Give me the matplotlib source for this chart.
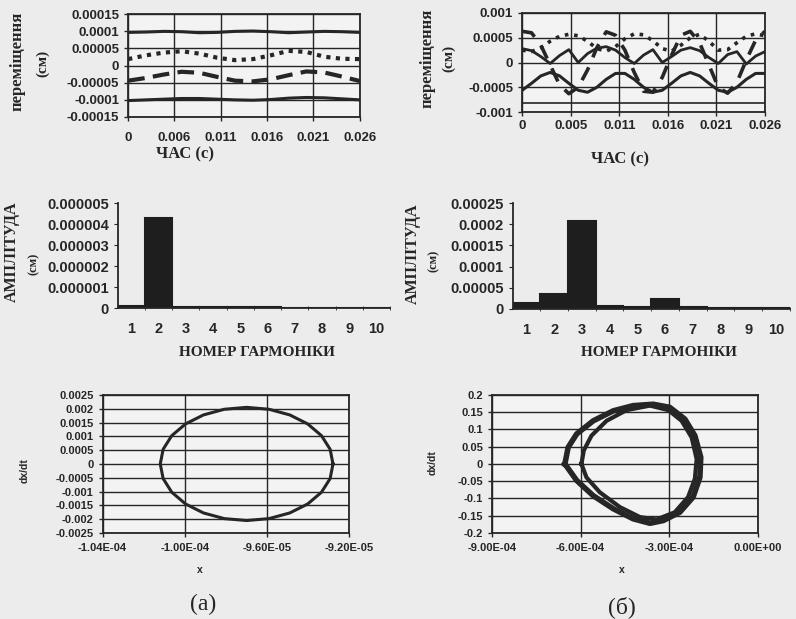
import matplotlib.pyplot as plt
from matplotlib.ticker import FixedLocator

# === Data: top row, displacement vs time ===
t_a = [0, 0.002, 0.004, 0.006, 0.008, 0.010, 0.012, 0.014, 0.016, 0.018, 0.020, 0.022, 0.024, 0.026]
disp_a_top = [9.7e-5, 9.8e-5, 1.0e-4, 9.9e-5, 9.6e-5, 9.7e-5, 1.0e-4, 1.01e-4, 9.9e-5, 9.6e-5, 9.8e-5, 1.0e-4, 9.9e-5, 9.7e-5]
disp_a_dot = [1.9e-5, 3.0e-5, 3.8e-5, 4.2e-5, 3.5e-5, 2.3e-5, 1.6e-5, 1.9e-5, 3.0e-5, 4.3e-5, 4.0e-5, 2.6e-5, 2.0e-5, 1.9e-5]
disp_a_dash = [-4.4e-5, -3.6e-5, -2.6e-5, -1.8e-5, -2.1e-5, -3.3e-5, -4.4e-5, -4.6e-5, -4.0e-5, -2.8e-5, -1.7e-5, -2.0e-5, -3.2e-5, -4.5e-5]
disp_a_bot = [-1.02e-4, -1.0e-4, -9.8e-5, -9.6e-5, -9.6e-5, -9.8e-5, -1.0e-4, -1.01e-4, -9.9e-5, -9.5e-5, -9.3e-5, -9.4e-5, -9.7e-5, -1.0e-4]

t_b = [0, 0.001, 0.002, 0.003, 0.004, 0.005, 0.006, 0.007, 0.008, 0.009, 0.010, 0.011, 0.012, 0.013,
       0.014, 0.015, 0.016, 0.017, 0.018, 0.019, 0.020, 0.021, 0.022, 0.023, 0.024, 0.025, 0.026]
disp_b_wave = [-5.6e-4, -4.2e-4, -2.7e-4, -2.0e-4, -2.7e-4, -4.2e-4, -5.6e-4, -6.0e-4, -5.0e-4, -3.4e-4, -2.2e-4,
               -2.2e-4, -3.4e-4, -5.0e-4, -6.0e-4, -5.6e-4, -4.2e-4, -2.7e-4, -2.0e-4, -2.7e-4, -4.2e-4,
               -5.6e-4, -6.0e-4, -5.0e-4, -3.4e-4, -2.2e-4, -2.2e-4]
disp_b_dash = [6.3e-4, 6.0e-4, 3.5e-4, -0.5e-4, -4.5e-4, -6.3e-4, -5.0e-4, -1.5e-4, 3.0e-4, 6.2e-4, 5.5e-4,
               2.5e-4, -2.0e-4, -5.8e-4, -6.0e-4, -3.0e-4, 1.5e-4, 5.5e-4, 6.3e-4, 4.0e-4, -0.5e-4,
               -5.0e-4, -6.2e-4, -4.0e-4, 0.5e-4, 4.5e-4, 6.3e-4]
disp_b_dot = [2.5e-4, 2.2e-4, 3.0e-4, 4.3e-4, 5.3e-4, 5.7e-4, 5.4e-4, 4.3e-4, 2.8e-4, 2.3e-4, 3.2e-4,
              4.8e-4, 5.8e-4, 5.6e-4, 4.4e-4, 2.8e-4, 2.3e-4, 3.5e-4, 5.0e-4, 5.7e-4, 4.3e-4,
              2.5e-4, 2.6e-4, 4.0e-4, 5.3e-4, 5.8e-4, 5.4e-4]
disp_b_v = [2.8e-4, 2.4e-4, 1.2e-4, -0.2e-4, 1.4e-4, 2.6e-4, 0.0, 1.8e-4, 2.9e-4, 3.2e-4, 2.5e-4,
            1.0e-4, -0.2e-4, 1.5e-4, 2.6e-4, 0.0, 1.2e-4, 2.5e-4, 3.0e-4, 2.4e-4, 1.0e-4,
            -0.2e-4, 1.6e-4, 2.2e-4, -0.3e-4, 1.3e-4, 2.2e-4]
t_b_flat = [0, 0.026]
disp_b_flat = [-8.2e-4, -8.2e-4]

time_ticks = [0, 0.0052, 0.0104, 0.0156, 0.0208, 0.026]
time_labels_a = ["0", "0.006", "0.011", "0.016", "0.021", "0.026"]
time_labels_b = ["0", "0.005", "0.011", "0.016", "0.021", "0.026"]

# === Data: middle row, harmonic amplitudes ===
harmonics = [1, 2, 3, 4, 5, 6, 7, 8, 9, 10]
amp_a = [1.2e-7, 4.3e-6, 6e-8, 5e-8, 5e-8, 4e-8, 3e-8, 3e-8, 3e-8, 3e-8]
amp_b = [1.4e-5, 3.5e-5, 2.07e-4, 7e-6, 4e-6, 2.4e-5, 4e-6, 1e-6, 1.5e-6, 1e-6]

# === Data: bottom row, phase portraits ===
phase_a_x = [-9.280e-5, -9.294e-5, -9.336e-5, -9.403e-5, -9.490e-5, -9.591e-5, -9.700e-5, -9.809e-5,
             -9.910e-5, -9.997e-5, -1.0064e-4, -1.0106e-4, -1.0120e-4, -1.0106e-4, -1.0064e-4,
             -9.997e-5, -9.910e-5, -9.809e-5, -9.700e-5, -9.591e-5, -9.490e-5, -9.403e-5, -9.336e-5,
             -9.294e-5, -9.280e-5]
phase_a_v = [0, 5.31e-4, 1.025e-3, 1.45e-3, 1.775e-3, 1.98e-3, 2.05e-3, 1.98e-3, 1.775e-3, 1.45e-3,
             1.025e-3, 5.31e-4, 0, -5.31e-4, -1.025e-3, -1.45e-3, -1.775e-3, -1.98e-3, -2.05e-3,
             -1.98e-3, -1.775e-3, -1.45e-3, -1.025e-3, -5.31e-4, 0]

phase_b_outer_x = [-6.53e-4, -6.42e-4, -6.13e-4, -5.57e-4, -4.89e-4, -4.22e-4, -3.54e-4, -2.98e-4, -2.47e-4,
                   -2.13e-4, -1.93e-4, -1.96e-4, -2.19e-4, -2.64e-4, -3.20e-4, -3.65e-4, -4.22e-4,
                   -4.89e-4, -5.57e-4, -6.13e-4, -6.53e-4]
phase_b_outer_v = [0, 0.048, 0.087, 0.125, 0.154, 0.169, 0.173, 0.164, 0.130, 0.082, 0.019, -0.039,
                   -0.096, -0.140, -0.164, -0.172, -0.159, -0.130, -0.092, -0.048, 0]
phase_b_inner_x = [-5.97e-4, -5.89e-4, -5.63e-4, -5.12e-4, -4.44e-4, -3.65e-4, -3.03e-4, -2.58e-4, -2.24e-4,
                   -2.07e-4, -2.13e-4, -2.36e-4, -2.81e-4, -3.43e-4, -3.99e-4, -4.67e-4, -5.35e-4,
                   -5.80e-4, -5.97e-4]
phase_b_inner_v = [0, 0.039, 0.082, 0.125, 0.156, 0.169, 0.156, 0.125, 0.077, 0.014, -0.043, -0.096,
                   -0.140, -0.161, -0.154, -0.125, -0.082, -0.039, 0]

# === Styling ===
INK = "#262626"
BG = "#ececec"
SANS = "Liberation Sans"
SERIF = "Liberation Serif"

fig = plt.figure(figsize=(7.96, 6.19), dpi=100, facecolor=BG)


def line_panel(ax, tick_size, pad_x):
    ax.set_facecolor("#f3f3f3")
    for s in ax.spines.values():
        s.set_color(INK)
        s.set_linewidth(1.3)
    ax.grid(True, color=INK, linewidth=1.0)
    ax.set_axisbelow(True)
    ax.tick_params(colors=INK, length=3, width=1, labelsize=tick_size)
    ax.tick_params(axis="x", pad=pad_x)
    for lab in ax.get_xticklabels() + ax.get_yticklabels():
        lab.set_fontfamily(SANS)
        lab.set_fontweight("bold")


def bar_panel(ax, values, top, yticks, ylabels):
    ax.set_facecolor("none")
    ax.bar(harmonics, values, width=1.0, color="#1e1e1e", edgecolor="#1e1e1e", linewidth=1.5)
    ax.set_xlim(0.5, 10.5)
    ax.set_ylim(0, top)
    ax.spines["top"].set_visible(False)
    ax.spines["right"].set_visible(False)
    for s in ("left", "bottom"):
        ax.spines[s].set_color(INK)
        ax.spines[s].set_linewidth(1.3)
    ax.set_xticks(harmonics)
    ax.set_xticklabels([str(h) for h in harmonics])
    ax.xaxis.set_minor_locator(FixedLocator([h + 0.5 for h in harmonics]))
    ax.tick_params(axis="x", which="major", length=0, pad=10, labelsize=10.5, colors=INK)
    ax.tick_params(axis="x", which="minor", length=3, direction="inout", color=INK)
    ax.set_yticks(yticks)
    ax.set_yticklabels(ylabels)
    ax.tick_params(axis="y", length=3, labelsize=10.5, colors=INK)
    for lab in ax.get_xticklabels() + ax.get_yticklabels():
        lab.set_fontfamily(SANS)
        lab.set_fontweight("bold")


# Panel 1: displacement (a)
ax1 = fig.add_axes([0.161, 0.811, 0.291, 0.166])
ax1.plot(t_a, disp_a_top, color=INK, lw=2.2)
ax1.plot(t_a, disp_a_dot, color=INK, lw=3, ls=(0, (1, 1.3)))
ax1.plot(t_a, disp_a_dash, color=INK, lw=3, ls=(0, (4, 2)))
ax1.plot(t_a, disp_a_bot, color=INK, lw=2.2)
ax1.set_xlim(0, 0.026)
ax1.set_ylim(-0.00015, 0.00015)
ax1.set_xticks(time_ticks)
ax1.set_xticklabels(time_labels_a)
ax1.set_yticks([-0.00015, -0.0001, -0.00005, 0, 0.00005, 0.0001, 0.00015])
ax1.set_yticklabels(["-0.00015", "-0.0001", "-0.00005", "0", "0.00005", "0.0001", "0.00015"])
line_panel(ax1, 9.5, 8)

# Panel 2: displacement (b)
ax2 = fig.add_axes([0.656, 0.819, 0.305, 0.160])
ax2.plot(t_b, disp_b_wave, color=INK, lw=2.2)
ax2.plot(t_b_flat, disp_b_flat, color=INK, lw=1.2)
ax2.plot(t_b, disp_b_dot, color=INK, lw=2.6, ls=(0, (1, 1.6)))
ax2.plot(t_b, disp_b_dash, color=INK, lw=2.6, ls=(0, (4, 3)))
ax2.plot(t_b, disp_b_v, color=INK, lw=2.0)
ax2.set_xlim(0, 0.026)
ax2.set_ylim(-0.001, 0.001)
ax2.set_xticks(time_ticks)
ax2.set_xticklabels(time_labels_b)
ax2.set_yticks([-0.001, -0.0005, 0, 0.0005, 0.001])
ax2.set_yticklabels(["-0.001", "-0.0005", "0", "0.0005", "0.001"])
line_panel(ax2, 9.5, 3)

# Panel 3 and 4: harmonic spectra
ax3 = fig.add_axes([0.148, 0.502, 0.342, 0.170])
bar_panel(ax3, amp_a, 0.000005,
          [0, 0.000001, 0.000002, 0.000003, 0.000004, 0.000005],
          ["0", "0.000001", "0.000002", "0.000003", "0.000004", "0.000005"])
ax4 = fig.add_axes([0.644, 0.501, 0.348, 0.171])
bar_panel(ax4, amp_b, 0.00025,
          [0, 0.00005, 0.0001, 0.00015, 0.0002, 0.00025],
          ["0", "0.00005", "0.0001", "0.00015", "0.0002", "0.00025"])

# Panel 5: phase portrait (a)
ax5 = fig.add_axes([0.129, 0.139, 0.310, 0.223])
ax5.plot(phase_a_x, phase_a_v, color=INK, lw=2.2, solid_joinstyle="round")
ax5.set_xlim(-1.04e-4, -9.2e-5)
ax5.set_ylim(-0.0025, 0.0025)
ax5.set_xticks([-1.04e-4, -1.0e-4, -9.6e-5, -9.2e-5])
ax5.set_xticklabels(["-1.04E-04", "-1.00E-04", "-9.60E-05", "-9.20E-05"])
ax5.set_yticks([-0.0025, -0.002, -0.0015, -0.001, -0.0005, 0, 0.0005, 0.001, 0.0015, 0.002, 0.0025])
ax5.set_yticklabels(["-0.0025", "-0.002", "-0.0015", "-0.001", "-0.0005", "0",
                     "0.0005", "0.001", "0.0015", "0.002", "0.0025"])
line_panel(ax5, 8, 4)

# Panel 6: phase portrait (b)
ax6 = fig.add_axes([0.618, 0.139, 0.334, 0.223])
ax6.plot(phase_b_outer_x, phase_b_outer_v, color=INK, lw=4, solid_joinstyle="round")
ax6.plot(phase_b_inner_x, phase_b_inner_v, color=INK, lw=3, solid_joinstyle="round")
ax6.set_xlim(-9e-4, 0)
ax6.set_ylim(-0.2, 0.2)
ax6.set_xticks([-9e-4, -6e-4, -3e-4, 0])
ax6.set_xticklabels(["-9.00E-04", "-6.00E-04", "-3.00E-04", "0.00E+00"])
ax6.set_yticks([-0.2, -0.15, -0.1, -0.05, 0, 0.05, 0.1, 0.15, 0.2])
ax6.set_yticklabels(["-0.2", "-0.15", "-0.1", "-0.05", "0", "0.05", "0.1", "0.15", "0.2"])
line_panel(ax6, 8, 4)

# === Labels ===
lab = dict(color=INK, family=SERIF, weight="bold", ha="center", va="center")
fig.text(0.022, 0.901, "переміщення", rotation=90, fontsize=12, **lab)
fig.text(0.054, 0.898, "(см)", rotation=90, fontsize=11, **lab)
fig.text(0.537, 0.906, "переміщення", rotation=90, fontsize=12, **lab)
fig.text(0.563, 0.906, "(см)", rotation=90, fontsize=11, **lab)
fig.text(0.232, 0.750, "ЧАС (с)", fontsize=12, **lab)
fig.text(0.779, 0.742, "ЧАС (с)", fontsize=12, **lab)

fig.text(0.015, 0.593, "АМПЛІТУДА", rotation=90, fontsize=11.5, **lab)
fig.text(0.042, 0.573, "(см)", rotation=90, fontsize=9, **lab)
fig.text(0.519, 0.590, "АМПЛІТУДА", rotation=90, fontsize=11.5, **lab)
fig.text(0.545, 0.578, "(см)", rotation=90, fontsize=9, **lab)
fig.text(0.323, 0.430, "НОМЕР ГАРМОНІКИ", fontsize=11, **lab)
fig.text(0.828, 0.430, "НОМЕР ГАРМОНІКИ", fontsize=11, **lab)

small = dict(color=INK, family=SANS, weight="bold", ha="center", va="center", fontsize=7.5)
fig.text(0.031, 0.239, "dx/dt", rotation=90, **small)
fig.text(0.544, 0.252, "dx/dt", rotation=90, **small)
fig.text(0.251, 0.079, "x", **small)
fig.text(0.781, 0.079, "x", **small)

fig.text(0.255, 0.024, "(а)", color=INK, family=SERIF, fontsize=17, ha="center", va="center")
fig.text(0.781, 0.020, "(б)", color=INK, family=SERIF, fontsize=17, ha="center", va="center")

fig.savefig("out.png", dpi=100, facecolor=BG)
